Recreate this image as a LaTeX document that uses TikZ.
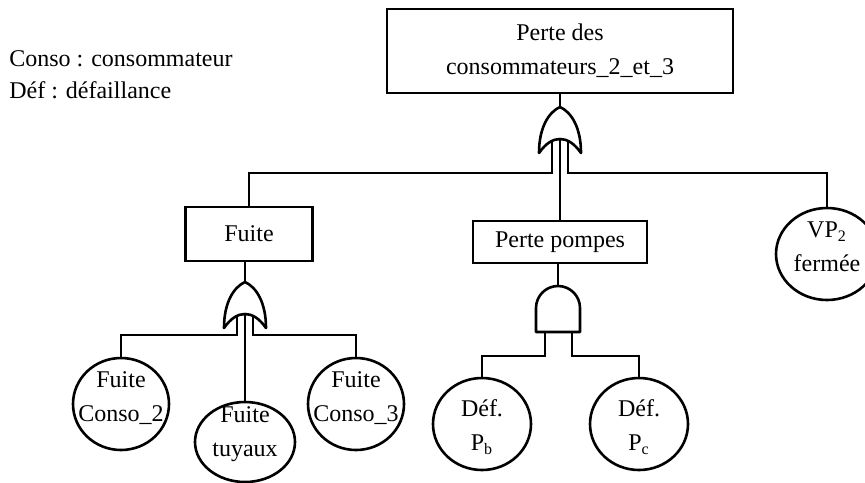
\documentclass[tikz,border=0pt]{standalone}
\usepackage{fontspec}
\setmainfont{Liberation Serif}
\usetikzlibrary{shapes.geometric}

% two-line label that takes no room, so the ellipse keeps its given size
\newcommand\ztext[2][0pt]{\makebox[0pt]{\raisebox{#1}[0pt][0pt]{\begin{tabular}{@{}c@{}}#2\end{tabular}}}}

\tikzset{
  orgate/.pic={
    \draw[gate] (-21,46) .. controls (-21,20) and (-11,5) .. (0,0)
      .. controls (11,5) and (21,20) .. (21,46)
      .. controls (14,36) and (7,32) .. (0,32)
      .. controls (-7,32) and (-14,36) .. (-21,46) -- cycle;
    \coordinate (-top) at (0,0);
    \coordinate (-l) at (-8,34);
    \coordinate (-m) at (0,32);
    \coordinate (-r) at (8,34);
  },
  andgate/.pic={
    \draw[gate] (-22,46) -- (-22,22) arc[start angle=180,end angle=360,radius=22] -- (22,46) -- cycle;
    \coordinate (-top) at (0,0);
    \coordinate (-l) at (-13,46);
    \coordinate (-r) at (14,46);
  }
}

\begin{document}
\begin{tikzpicture}[x=0.5pt,y=-0.5pt,line width=1.3pt,
  every node/.style={font=\fontsize{12}{17}\selectfont},
  box/.style={draw,rectangle,inner sep=0pt,align=center},
  event/.style={draw,ellipse,inner sep=0pt},
  gate/.style={line join=round},
  legend/.style={anchor=base west,inner sep=0pt}]

\useasboundingbox (0,0) rectangle (865,482);
\clip (0,0) rectangle (865,482);

% legend
\node[legend] (leg1) at (8,66) {Conso : consommateur};
\node[legend] (leg2) at (8,98) {Déf : défaillance};

% events
\node[box, minimum width=173pt, minimum height=42pt] (top) at (560,51) {Perte des\\consommateurs\_2\_et\_3};
\node[box, minimum width=63.5pt, minimum height=27pt] (fuite) at (249,234) {Fuite};
\node[box, minimum width=87pt, minimum height=21pt] (pompes) at (560,242) {Perte pompes};

\node[event, minimum width=48pt, minimum height=46pt] (c2) at (121,404) {\ztext{Fuite\\Conso\_2}};
\node[event, minimum width=50pt, minimum height=40pt] (tuy) at (245,442) {\ztext[1.5pt]{Fuite\\tuyaux}};
\node[event, minimum width=48pt, minimum height=46pt] (c3) at (356,404) {\ztext{Fuite\\Conso\_3}};
\node[event, minimum width=49pt, minimum height=46pt] (pb) at (482,424) {\ztext[-4.5pt]{Déf.\\P\textsubscript{b}}};
\node[event, minimum width=49pt, minimum height=46pt] (pc) at (639,424) {\ztext[-4.5pt]{Déf.\\P\textsubscript{c}}};
\node[event, minimum width=51pt, minimum height=46pt] (vp) at (827,254) {\ztext{VP\textsubscript{2}\\fermée}};

% gates
\pic (g1) at (560,107) {orgate};
\pic (g2) at (245,282) {orgate};
\pic (g3) at (558,286) {andgate};

% levels of the horizontal runs
\coordinate (bus1) at (0,173);
\coordinate (bus2) at (0,335);
\coordinate (bus3) at (0,356);

% connectors
\draw (top.south) -- (g1-top);
\draw (g1-l) -- (g1-l |- bus1) -| (fuite.north);
\draw (g1-m) -- (g1-m |- pompes.north);
\draw (g1-r) -- (g1-r |- bus1) -| (vp.north);

\draw (fuite.south -| g2-top) -- (g2-top);
\draw (g2-l) -- (g2-l |- bus2) -| (c2.north);
\draw (g2-m) -- (tuy.north);
\draw (g2-r) -- (g2-r |- bus2) -| (c3.north);

\draw (pompes.south -| g3-top) -- (g3-top);
\draw (g3-l) -- (g3-l |- bus3) -| (pb.north);
\draw (g3-r) -- (g3-r |- bus3) -| (pc.north);
\end{tikzpicture}
\end{document}
